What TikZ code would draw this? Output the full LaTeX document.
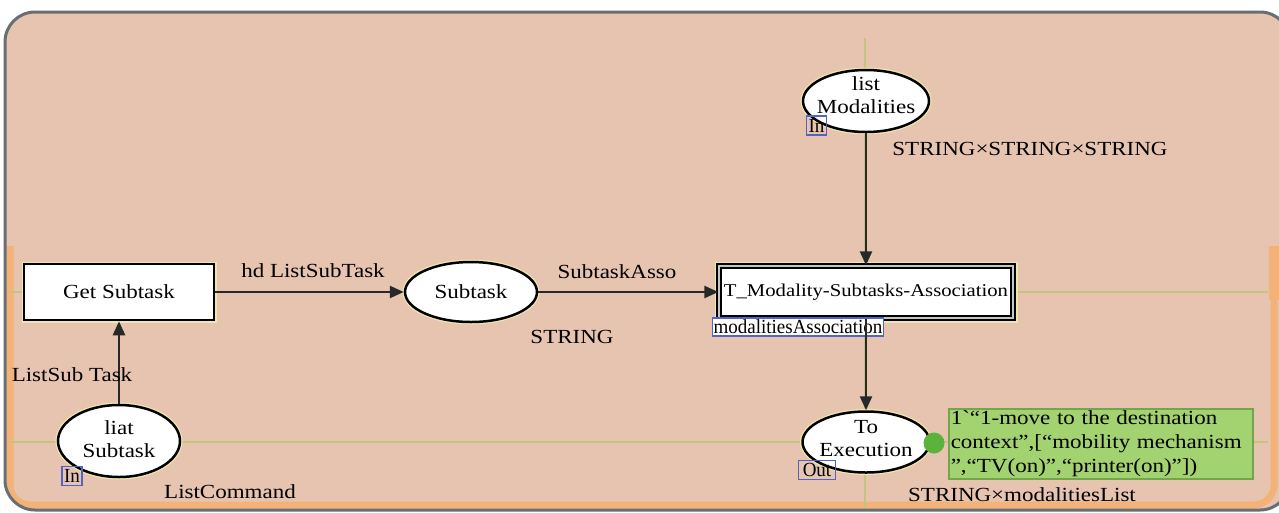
\documentclass[tikz,border=0pt]{standalone}
\usepackage{fontspec}
\setmainfont{Liberation Serif}[FakeStretch=1.15, Ligatures=TeXOff]
\newfontfamily\tagfamily{Liberation Serif}[FakeStretch=0.95, Ligatures=TeXOff]
\usetikzlibrary{shapes.geometric, arrows.meta}

\definecolor{bgpink}{RGB}{230,196,176}
\definecolor{frameorange}{RGB}{242,178,120}
\definecolor{framegray}{RGB}{105,110,115}
\definecolor{guide}{RGB}{196,196,124}
\definecolor{halo}{RGB}{240,232,170}
\definecolor{tagblue}{RGB}{80,100,200}
\definecolor{notegreen}{RGB}{163,210,112}
\definecolor{noteedge}{RGB}{115,165,75}
\definecolor{tokengreen}{RGB}{90,180,60}
\definecolor{arcgray}{RGB}{40,40,40}

\newcommand\lblfont{\fontsize{20}{23}\selectfont}
\newcommand\transfont{\fontsize{18}{21}\selectfont}
\newcommand\tagfont{\tagfamily\fontsize{20}{20}\selectfont}

\tikzset{
  place/.style={ellipse, draw=black, line width=2.5pt, fill=white, inner sep=0pt,
    preaction={draw=halo, line width=5pt}},
  placetext/.style={inner sep=0pt, align=center, font=\lblfont},
  trans/.style={rectangle, draw=black, line width=2.5pt, fill=white, inner sep=0pt,
    font=\lblfont, preaction={draw=halo, line width=5pt}},
  subst/.style={rectangle, draw=black, line width=1.4pt, double=gray!45,
    double distance=2.6pt, fill=white, inner sep=0pt, font=\transfont,
    preaction={draw=halo, line width=9pt}},
  tag/.style={rectangle, draw=tagblue, line width=1.2pt, inner xsep=2pt, inner ysep=0pt,
    minimum height=19pt, font=\tagfont},
  lbl/.style={inner sep=0pt, font=\lblfont},
  arc/.style={draw=arcgray, line width=2.5pt, -{Triangle[length=14pt,width=12pt]}},
  guideline/.style={draw=guide, line width=2pt},
}

\begin{document}
\begin{tikzpicture}[x=1pt, y=-1pt]
\useasboundingbox (0,0) rectangle (1279,512);
\fill[white] (0,0) rectangle (1279,512);

% page background and frame
\fill[bgpink, rounded corners=30pt] (5,12) rectangle (1290,510);
\draw[frameorange, line width=7pt, rounded corners=20pt]
  (10,246) -- (10,505) -- (1274,505) -- (1274,246);
\draw[frameorange, line width=10pt] (1274,300) -- (1274,246);
\draw[framegray, line width=3pt, rounded corners=30pt] (5,12) rectangle (1290,510);

% alignment guides
\draw[guideline] (10,292) -- (1268,292);
\draw[guideline] (10,442) -- (1268,442);
\draw[guideline] (865,38) -- (865,508);

% transitions
\node[trans, minimum width=190pt, minimum height=56pt] (get) at (119,292) {Get Subtask};
\node[subst, minimum width=294pt, minimum height=52pt] (tmod) at (866,292) {T\_Modality-Subtasks-Association};

% places
\node[place, minimum width=132pt, minimum height=60pt] (sub) at (471,292) {};
\node[placetext] (subtxt) at (sub.center) {Subtask};
\node[place, minimum width=126pt, minimum height=62pt] (lmod) at (866,101) {};
\node[placetext, yshift=6pt] (lmodtxt) at (lmod.center) {list\\Modalities};
\node[place, minimum width=127pt, minimum height=61pt] (toex) at (866,442) {};
\node[placetext, yshift=3pt] (toextxt) at (toex.center) {To\\Execution};
\node[place, minimum width=122pt, minimum height=72pt] (liat) at (119,441) {};
\node[placetext, yshift=2pt] (liattxt) at (liat.center) {liat\\Subtask};

% port and substitution tags
\node[tag] (inmod) at (816.5,125.5) {In};
\node[tag, inner xsep=4pt] (outex) at (817,470) {Out};
\node[tag] (inliat) at (72,476) {In};
\node[tag, fill=white, inner xsep=1pt, minimum height=18pt] (assoc) at (798,327) {modalitiesAssociation};

% arcs
\draw[arc] (liat) -- (get);
\draw[arc] (get) -- (sub);
\draw[arc] (sub) -- (tmod);
\draw[arc] (lmod) -- (tmod);
\draw[arc] (tmod) -- (toex);

% arc inscriptions and colour sets
\node[lbl] (ins1) at (313,271) {hd ListSubTask};
\node[lbl] (ins2) at (617,272) {SubtaskAsso};
\node[lbl] (ins3) at (72,375) {ListSub Task};
\node[lbl] (cs1) at (572,337) {STRING};
\node[lbl] (cs2) at (230,492) {ListCommand};
\node[lbl] (cs3) at (1030,149) {STRING×STRING×STRING};
\node[lbl] (cs4) at (1022,495) {STRING×modalitiesList};

% current marking
\node[circle, fill=tokengreen, minimum size=21pt, inner sep=0pt] (tok) at (934,443) {};
\node[rectangle, fill=notegreen, draw=noteedge, line width=1.5pt, anchor=west,
  text width=300pt, minimum height=70pt, inner sep=2pt, align=left,
  font=\fontsize{20}{24}\selectfont] (mark) at (948,444)
  {1`“1-move to the destination\\context”,[“mobility mechanism\\”,“TV(on)”,“printer(on)”])};
\end{tikzpicture}
\end{document}
